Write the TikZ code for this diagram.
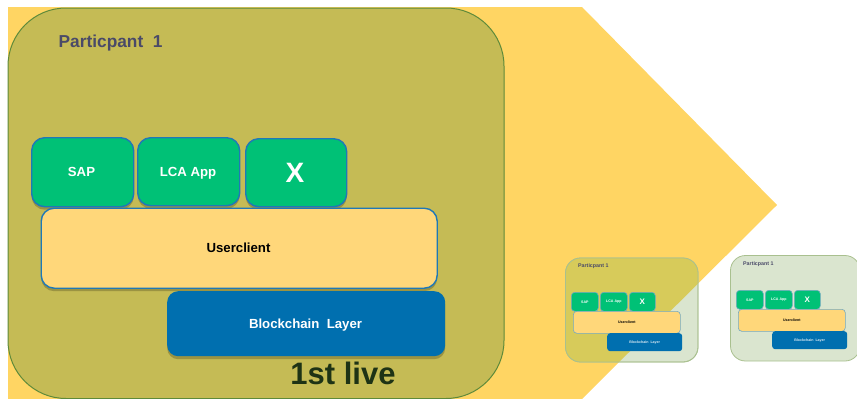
\documentclass[tikz,border=0pt]{standalone}
\usepackage{fontspec}
\setmainfont{Liberation Sans}
\usetikzlibrary{shadows}
\definecolor{arrowY}{HTML}{FFD563}
\definecolor{oliveF}{HTML}{C5BB55}
\definecolor{oliveS}{HTML}{D7CB5A}
\definecolor{paleG}{HTML}{DAE5CF}
\definecolor{greenE}{HTML}{5E8A3A}
\definecolor{paleE}{HTML}{A9C08F}
\definecolor{appG}{HTML}{00C176}
\definecolor{edgeB}{HTML}{1F78B8}
\definecolor{chainB}{HTML}{006FAF}
\definecolor{userY}{HTML}{FFD77A}
\definecolor{titleC}{HTML}{4A4A68}
\definecolor{liveC}{HTML}{1E3315}
\tikzset{
  x=1pt,y=-1pt,
  softshadow/.style={drop shadow={shadow xshift=0pt,shadow yshift=-3pt,opacity=0.3,fill=black!70!oliveF}},
  boxlabel/.style={align=center,inner sep=0pt},
  bigtext/.style={boxlabel,anchor=base,font=\fontsize{13.2}{15}\selectfont\bfseries},
  tinyfont/.style={boxlabel,font=\fontsize{3.6}{4}\selectfont\bfseries},
  minibox/.style={draw=edgeB!55!paleG,line width=.6pt,rounded corners=3.5pt,inner sep=0pt,anchor=north west},
  smalltitle/.style={anchor=west,inner sep=0pt,font=\fontsize{5.3}{6}\selectfont\bfseries,text=titleC},
  appbox/.style={draw=edgeB,line width=1.4pt,fill=appG,rounded corners=13pt,inner sep=0pt,anchor=north west,softshadow},
  palepanel/.style={draw=paleE,line width=.8pt,rounded corners=15pt},
}
\newcommand{\miniset}[3]{% prefix, dx, dy
  \begin{scope}[shift={(#2,#3)}]
    \node[minibox,fill=appG,minimum width=27pt,minimum height=19pt] (#1sap) at (0,0) {};
    \node[minibox,fill=appG,minimum width=27pt,minimum height=19pt] (#1lca) at (29,0) {};
    \node[minibox,fill=appG,minimum width=26pt,minimum height=19pt] (#1x) at (58,0) {};
    \node[minibox,fill=userY,minimum width=107pt,minimum height=22pt] (#1user) at (2,19) {};
    \node[fill=chainB,rounded corners=3pt,minimum width=75pt,minimum height=18pt,inner sep=0pt,anchor=north west] (#1chain) at (36,41) {};
    \node[tinyfont,text=white] at (#1sap) {SAP};
    \node[tinyfont,text=white] at (#1lca) {LCA App};
    \node[boxlabel,font=\fontsize{8}{9}\selectfont\bfseries,text=white] at (#1x) {X};
    \node[tinyfont,text=black] at (#1user) {Userclient};
    \node[tinyfont,text=white!85!chainB] at (#1chain) {Blockchain\ \ Layer};
  \end{scope}
}
\begin{document}
\begin{tikzpicture}
\useasboundingbox (0,0) rectangle (857,399);
% chevron
\fill[arrowY] (8,7) -- (582,7) -- (777,205) -- (582,399) -- (8,399) -- cycle;
% large participant
\draw[fill=oliveF,draw=greenE,line width=1pt,rounded corners=58pt] (8,8) rectangle (504,398.5);
\node[anchor=base west,inner sep=0pt,font=\fontsize{17.3}{20}\selectfont\bfseries,text=titleC] (ptitle) at (58.5,47.5) {Particpant\ \ 1};
\node[appbox,minimum width=102pt,minimum height=69pt] (sap) at (31,137) {};
\node[appbox,minimum width=102pt,minimum height=68pt] (lca) at (137,137) {};
\node[appbox,minimum width=101pt,minimum height=68pt] (xapp) at (245,138) {};
\node[draw=edgeB,line width=1.4pt,fill=userY,rounded corners=13pt,inner sep=0pt,anchor=north west,softshadow,minimum width=396pt,minimum height=80pt] (user) at (40.5,207.5) {};
\node[fill=chainB,rounded corners=11pt,inner sep=0pt,anchor=north west,softshadow,minimum width=278pt,minimum height=65pt] (chain) at (167,291) {};
\node[bigtext,text=white] at (81.5,176.5) {SAP};
\node[bigtext,text=white] at (188,176.5) {LCA App};
\node[boxlabel,anchor=base,font=\fontsize{28}{30}\selectfont\bfseries,text=white] at (295,182) {X};
\node[bigtext,text=black] at (238.5,252.5) {Userclient};
\node[bigtext,text=white] at (305.5,328) {Blockchain\ \ Layer};
\node[boxlabel,anchor=base,font=\fontsize{31}{33}\selectfont\bfseries,text=liveC] (live) at (343,384.5) {1st live};
% small participant over chevron
\draw[palepanel,fill=paleG] (565.5,258) rectangle (698,362);
\begin{scope}
  \clip (8,7) -- (582,7) -- (777,205) -- (582,399) -- (8,399) -- cycle;
  \fill[oliveS,rounded corners=15pt] (565.5,258) rectangle (698,362);
\end{scope}
\draw[palepanel] (565.5,258) rectangle (698,362);
\node[smalltitle] (p2) at (578,266) {Particpant 1};
\miniset{a}{571}{292}
% small participant right
\draw[palepanel,fill=paleG] (730.5,255.5) rectangle (860,361);
\node[smalltitle] (p3) at (743,264) {Particpant 1};
\miniset{b}{736}{290}
\end{tikzpicture}
\end{document}
